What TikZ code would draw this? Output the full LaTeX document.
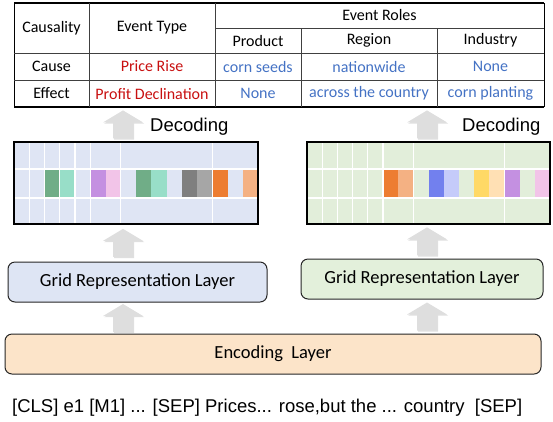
\documentclass[tikz,border=0pt]{standalone}
\usepackage{fontspec}
\setmainfont{Carlito}
\newfontfamily\arialfont{Liberation Sans}
\usetikzlibrary{calc,shadows}

\begin{document}
\begin{tikzpicture}[x=1pt,y=-1pt,
    cell/.style={font=\fontsize{16}{18}\selectfont, inner sep=0pt},
    redcell/.style={cell, text=typered},
    bluecell/.style={cell, text=roleblue},
    rule/.style={black!75, line width=0.8pt},
    boldrule/.style={black, line width=1.6pt},
    gridbox/.style={inner sep=0pt, minimum width=244pt, minimum height=82pt},
    gridline/.style={white, line width=1.3pt},
    layerbox/.style={draw=black!85, line width=1pt, rounded corners=7pt, inner sep=0pt,
        minimum height=40pt, font=\fontsize{18.5}{22}\selectfont},
    decotext/.style={font=\arialfont\fontsize{18.5}{22}\selectfont, anchor=west, inner sep=0pt},
    uparr/.pic={
        \fill[black!13, drop shadow={shadow xshift=1.2pt, shadow yshift=-1.2pt, opacity=0.25}]
            (-10,14) -- (-10,-2) -- (-20,-2) -- (0,-14) -- (20,-2) -- (10,-2) -- (10,14) -- cycle;
    }]
    % Define colors
    \definecolor{typered}{RGB}{200,16,16}
    \definecolor{roleblue}{RGB}{68,114,196}
    \definecolor{lgridbg}{RGB}{223,229,244}
    \definecolor{rgridbg}{RGB}{226,238,218}
    \definecolor{lboxfill}{RGB}{222,229,244}
    \definecolor{rboxfill}{RGB}{227,240,219}
    \definecolor{encfill}{RGB}{252,228,201}
    \definecolor{ggreen}{RGB}{112,173,135}
    \definecolor{gteal}{RGB}{152,222,200}
    \definecolor{gpurple}{RGB}{196,144,225}
    \definecolor{gpink}{RGB}{242,196,232}
    \definecolor{gdark}{RGB}{127,127,127}
    \definecolor{glight}{RGB}{166,166,166}
    \definecolor{gorange}{RGB}{237,125,49}
    \definecolor{gpeach}{RGB}{244,177,131}
    \definecolor{gblue}{RGB}{114,128,238}
    \definecolor{glblue}{RGB}{197,203,250}
    \definecolor{gyellow}{RGB}{255,217,102}
    \definecolor{gcream}{RGB}{255,224,180}

    \useasboundingbox (0,0) rectangle (553,421);

    % Table rules
    \draw[boldrule] (14,3) -- (544,3);
    \draw[boldrule] (14,107) -- (544,107);
    \draw[black, line width=1pt] (14,3) -- (14,107);
    \draw[black, line width=1pt] (544,3) -- (544,107);
    \draw[rule] (89,3) -- (89,107);
    \draw[rule] (215,3) -- (215,107);
    \draw[rule] (301,28) -- (301,107);
    \draw[rule] (437,28) -- (437,107);
    \draw[rule] (215,28) -- (544,28);
    \draw[rule] (14,53) -- (544,53);
    \draw[rule] (14,80) -- (544,80);

    % Table texts
    \node[cell] (caus) at (51.5,28) {Causality};
    \node[cell] (etype) at (152,28) {Event Type};
    \node[cell] (roles) at (379.5,15.5) {Event Roles};
    \node[cell] (prod) at (258,40.5) {Product};
    \node[cell] (reg) at (369,40.5) {Region};
    \node[cell] (ind) at (490.5,40.5) {Industry};
    \node[cell] (cause) at (51.5,66.5) {Cause};
    \node[redcell] (rise) at (152,66.5) {Price Rise};
    \node[bluecell] (seeds) at (258,66.5) {corn seeds};
    \node[bluecell] (nation) at (369,66.5) {nationwide};
    \node[bluecell] (none1) at (490.5,66.5) {None};
    \node[cell] (effect) at (51.5,93.5) {Effect};
    \node[redcell] (decl) at (152,93.5) {Profit Declination};
    \node[bluecell] (none2) at (258,93.5) {None};
    \node[bluecell] (across) at (369,93.5) {across the country};
    \node[bluecell] (plant) at (490.5,93.5) {corn planting};

    % Left grid
    \node[gridbox, fill=lgridbg] (lgrid) at (136,183) {};
    \foreach \c/\col in {2/ggreen,3/gteal,5/gpurple,6/gpink,8/ggreen,9/gteal,11/gdark,12/glight,13/gorange,15/gpeach}
        \fill[\col] (14+\c*15.25,169) rectangle ++(15.25,29);
    \foreach \k in {1,...,5,7,...,15}
        \draw[gridline] (14+\k*15.25,142) -- ++(0,82);
    \foreach \y in {169,198}
        \draw[gridline] (14,\y) -- (258,\y);
    \draw[black, line width=1.8pt] (lgrid.north west) rectangle (lgrid.south east);

    % Right grid
    \node[gridbox, minimum width=243pt, fill=rgridbg] (rgrid) at (428.5,183) {};
    \foreach \c/\col in {5/gorange,6/gpeach,8/gblue,9/glblue,11/gyellow,12/gcream,13/gpurple,15/gpink}
        \fill[\col] (307+\c*15.19,169) rectangle ++(15.19,29);
    \foreach \k in {1,...,5,7,...,15}
        \draw[gridline] (307+\k*15.19,142) -- ++(0,82);
    \foreach \y in {169,198}
        \draw[gridline] (307,\y) -- (550,\y);
    \draw[black, line width=1.8pt] (rgrid.north west) rectangle (rgrid.south east);

    % Layers
    \node[layerbox, fill=lboxfill, minimum width=259pt] (lgrl) at (137.5,282) {Grid Representation Layer};
    \node[layerbox, fill=rboxfill, minimum width=242pt] (rgrl) at (422,279) {Grid Representation Layer};
    \node[layerbox, fill=encfill, minimum width=536pt] (enc) at (273,354) {Encoding\ \ Layer};

    % Input text
    \node[decotext] (input) at (12,408) {[CLS] e1 [M1] ... [SEP] Prices... rose,but the ... country\ \ [SEP]};

    % Arrows
    \coordinate (la) at (123,0);
    \coordinate (ra) at (427,0);
    \pic at (la |- {$(lgrid.north)!0.5!(107,107)$}) {uparr};
    \pic at (ra |- {$(rgrid.north)!0.5!(107,107)$}) {uparr};
    \pic at (la |- {$(lgrid.south)!0.5!(lgrl.north)$}) {uparr};
    \pic at (ra |- {$(rgrid.south)!0.5!(rgrl.north)$}) {uparr};
    \pic at (la |- {$(lgrl.south)!0.5!(enc.north)$}) {uparr};
    \pic at (ra |- {$(rgrl.south)!0.5!(enc.north)$}) {uparr};

    % Decoding labels
    \node[decotext] (ldec) at (150,127) {Decoding};
    \node[decotext] (rdec) at (462,127) {Decoding};
\end{tikzpicture}
\end{document}
